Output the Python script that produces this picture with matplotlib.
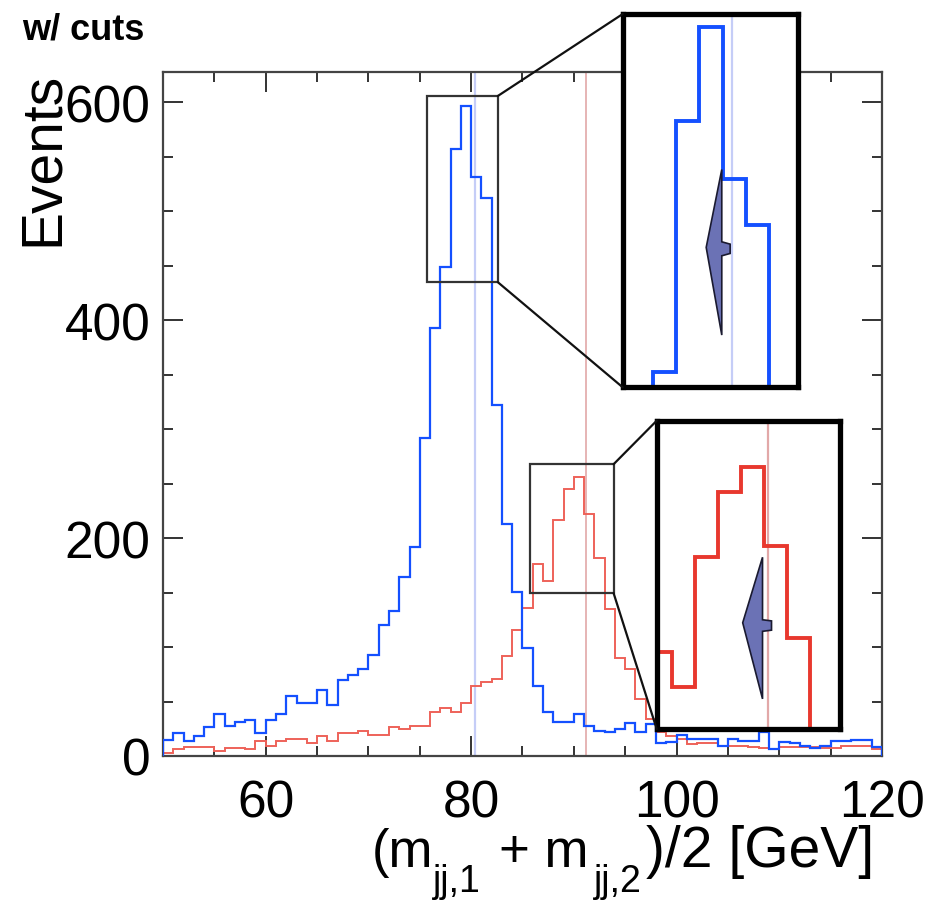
import numpy as np
import matplotlib
matplotlib.use("Agg")
import matplotlib.pyplot as plt
from matplotlib.ticker import MultipleLocator
from matplotlib.patches import Rectangle, Polygon, ConnectionPatch

plt.rcParams['font.family'] = ['Liberation Sans', 'DejaVu Sans']

# ---- data (1 GeV bins from 50 to 120) ----
bin_edges = np.arange(50, 121, 1)
w_counts = [15, 21, 14, 18, 27, 39, 28, 31, 33, 21,
            33, 39, 55, 49, 49, 61, 47, 70, 74, 80,
            93, 120, 133, 164, 192, 292, 393, 449, 557, 597,
            532, 512, 322, 213, 151, 99, 64, 40, 31, 31,
            39, 28, 23, 22, 25, 30, 22, 29, 12, 13,
            19, 16, 16, 16, 9, 16, 14, 14, 22, 6,
            13, 12, 9, 7, 9, 14, 14, 15, 15, 8]
z_counts = [3, 6, 8, 8, 8, 5, 7, 7, 6, 14,
            9, 14, 16, 16, 12, 18, 14, 21, 21, 23,
            19, 19, 27, 25, 28, 28, 40, 44, 40, 49,
            64, 68, 71, 92, 116, 136, 176, 161, 217, 245,
            256, 222, 182, 135, 90, 80, 52, 34, 22, 18,
            16, 11, 12, 12, 9, 9, 9, 8, 7, 6,
            8, 8, 8, 8, 7, 7, 9, 9, 9, 6]
m_w = 80.4
m_z = 91.19
x_ticks = [60, 80, 100, 120]
y_ticks = [0, 200, 400, 600]

# zoom windows (x0, x1, y0, y1)
w_zoom = (75.7, 83.25, 442.6, 602.7)
z_zoom = (86.35, 94.3, 142.8, 276.0)
w_rect = (75.68, 82.6, 435, 606)
z_rect = (85.69, 93.87, 149.5, 267.9)
# marker shapes in the zooms
w_kite_x = [79.96, 79.96, 80.32, 80.32, 79.96, 79.96, 79.29]
w_kite_y = [536, 505, 504, 500, 499, 465, 502.6]
z_kite_x = [90.94, 90.94, 91.33, 91.33, 90.94, 90.94, 90.08]
z_kite_y = [217, 190, 189.5, 185.5, 185, 155.8, 188.7]

# x-axis title pieces: (text, is_subscript)
xlabel_parts = [('(m', False), ('jj,1', True), ('+ m', False),
                ('jj,2', True), (')/2 [GeV]', False)]
xlabel_left_px = [372, 433, 499, 594, 646]

BLUE = '#1450ff'
RED_MAIN = '#ee6259'
RED = '#e8382e'
BLUE_LINE = '#c5cdf7'
RED_LINE = '#e2a8a8'

W, H = 927, 903
fig = plt.figure(figsize=(W / 100, H / 100), dpi=100)


def fx(px):
    return px / W


def fy(py):
    return 1 - py / H


ax = fig.add_axes([fx(163), fy(757), (882 - 163) / W, (757 - 73) / H])
ax.set_xlim(50, 120)
ax.set_ylim(0, 628)
ax.axvline(m_w, color=BLUE_LINE, lw=1.6, zorder=1)
ax.axvline(m_z, color=RED_LINE, lw=1.2, zorder=1)
ax.stairs(w_counts, bin_edges, color=BLUE, lw=1.6, zorder=3)
ax.stairs(z_counts, bin_edges, color=RED_MAIN, lw=1.4, zorder=2)

ax.set_xticks(x_ticks)
ax.set_yticks(y_ticks)
ax.xaxis.set_minor_locator(MultipleLocator(5))
ax.yaxis.set_minor_locator(MultipleLocator(50))
ax.tick_params(which='both', direction='in', top=True, right=True,
               color='#333333', width=1.4, labelsize=37)
ax.tick_params(which='major', length=14.5)
ax.tick_params(which='minor', length=7.5)
ax.tick_params(axis='x', which='major', pad=16)
ax.tick_params(axis='y', which='major', pad=9)
for s in ax.spines.values():
    s.set_linewidth(1.6)
    s.set_color('#444444')

for (x0, x1, y0, y1) in (w_rect, z_rect):
    ax.add_patch(Rectangle((x0, y0), x1 - x0, y1 - y0, fill=False,
                           ec='#333333', lw=1.6, zorder=4))

# inset axes
axb = fig.add_axes([fx(622.7), fy(388.3), (798.3 - 622.7) / W, (388.3 - 15) / H])
axr = fig.add_axes([fx(656.7), fy(730), (840 - 656.7) / W, (730 - 421.7) / H])
for ia, zoom, counts, col, mline, lcol, kx, ky in (
        (axb, w_zoom, w_counts, BLUE, m_w, BLUE_LINE, w_kite_x, w_kite_y),
        (axr, z_zoom, z_counts, RED, m_z, RED_LINE, z_kite_x, z_kite_y)):
    ia.set_xlim(zoom[0], zoom[1])
    ia.set_ylim(zoom[2], zoom[3])
    ia.axvline(mline, color=lcol, lw=1.6, zorder=1)
    ia.stairs(counts, bin_edges, color=col, lw=2.8, zorder=2)
    ia.add_patch(Polygon(list(zip(kx, ky)), closed=True, fc='#6b72b5',
                         ec='#1a1a30', lw=1.2, zorder=3))
    ia.set_xticks([])
    ia.set_yticks([])
    for s in ia.spines.values():
        s.set_linewidth(3.8)
        s.set_color('black')

# connector lines
for rect, ia in ((w_rect, axb), (z_rect, axr)):
    x0, x1, y0, y1 = rect
    for ym, yi in ((y1, 1), (y0, 0)):
        cp = ConnectionPatch(xyA=(x1, ym), coordsA=ax.transData,
                             xyB=(0, yi), coordsB=ia.transAxes,
                             color='#111111', lw=1.6, zorder=5)
        fig.add_artist(cp)

fig.text(fx(43), fy(72), 'Events', rotation=90, ha='center', va='top',
         fontsize=41)
fig.text(fx(22), fy(40), 'w/ cuts', fontweight='bold', fontsize=26,
         ha='left', va='baseline')

# x-axis title with ROOT-like deep subscripts
base_main = 867
base_sub = 892
for (txt, is_sub), xl in zip(xlabel_parts, xlabel_left_px):
    if txt.startswith(')'):
        size = 41
    else:
        size = 27 if is_sub else 38
    fig.text(fx(xl), fy(base_sub if is_sub else base_main), txt,
             ha='left', va='baseline', fontsize=size)

fig.savefig('out.png', dpi=100)
